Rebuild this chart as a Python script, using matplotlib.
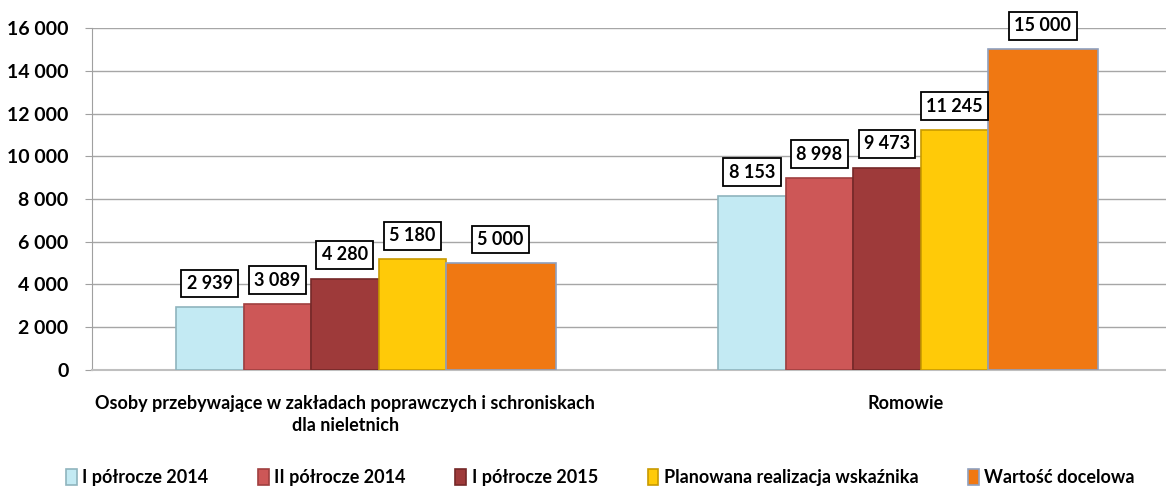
import matplotlib.pyplot as plt
import numpy as np

plt.rcParams['font.family'] = ['Lato', 'DejaVu Sans']

categories = ['Osoby przebywające w zakładach poprawczych i schroniskach\ndla nieletnich',
              'Romowie']
series_names = ['I półrocze 2014', 'II półrocze 2014', 'I półrocze 2015',
                'Planowana realizacja wskaźnika', 'Wartość docelowa']
values = [
    [2939, 8153],
    [3089, 8998],
    [4280, 9473],
    [5180, 11245],
    [5000, 15000],
]
colors = ['#C3EAF3', '#CD5757', '#9E3A3A', '#FFCA08', '#F07812']
edges = ['#8FB4BE', '#A04040', '#742828', '#C89A00', '#8FA0BE']

# bar offsets from category centre (in category units) and widths
offsets = [-0.345, -0.2205, -0.096, 0.0285, 0.152]
widths = [0.1245, 0.1245, 0.1245, 0.1245, 0.203]
label_shift = [-0.033, 0.0]


def fmt(v):
    return '{:,}'.format(v).replace(',', ' ')


fig = plt.figure(figsize=(11.66, 4.92), dpi=100)
ax = fig.add_axes([0.0789, 0.248, 0.93, 0.695])

x = np.arange(len(categories))
for i in range(len(series_names)):
    bars = ax.bar(x + offsets[i], values[i], width=widths[i], align='edge',
                  color=colors[i], edgecolor=edges[i], linewidth=1.2,
                  label=series_names[i], zorder=3 + i)
    for b, v in zip(bars, values[i]):
        ax.annotate(fmt(v), (b.get_x() + b.get_width() / 2, v),
                    xytext=(0, 17), textcoords='offset points',
                    ha='center', va='center', fontsize=13, fontweight='bold',
                    bbox=dict(boxstyle='square,pad=0.3', fc='white', ec='black', lw=1.3),
                    zorder=20, annotation_clip=False)

ax.set_xlim(-0.5, 1.5)
ax.set_ylim(0, 16000)
yt = np.arange(0, 16001, 2000)
ax.set_yticks(yt)
ax.set_yticklabels([fmt(v) for v in yt], fontsize=14, fontweight='bold')
ax.set_xticks(x + np.array(label_shift))
ax.set_xticklabels(categories, fontsize=13, fontweight='bold', linespacing=1.35)
ax.tick_params(axis='x', length=0, pad=18)
ax.tick_params(axis='y', length=5, color='#A0A0A0', pad=12)
ax.grid(axis='y', color='#A6A6A6', lw=1, zorder=0)
ax.grid(axis='x', visible=False)
for s in ['top', 'right']:
    ax.spines[s].set_visible(False)
ax.spines['left'].set_color('#A0A0A0')
ax.spines['bottom'].set_color('#BFBFBF')
ax.spines['bottom'].set_linewidth(1.5)

fig.legend(loc='center', bbox_to_anchor=(0.515, 0.03), ncol=5, frameon=False,
           prop=dict(size=13, weight='bold'), handlelength=0.6, handleheight=1.0,
           handletextpad=0.3, columnspacing=2.75)

fig.savefig('out.png', dpi=100)
